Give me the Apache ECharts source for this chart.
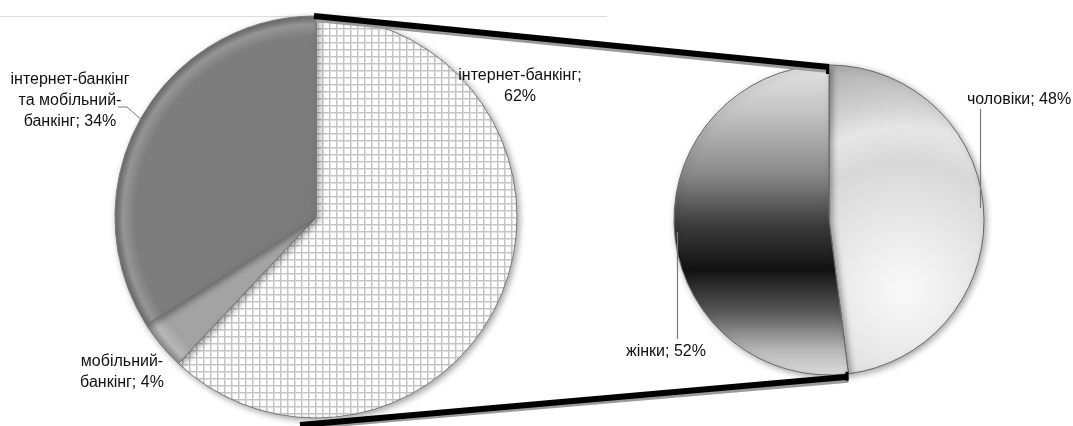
<!DOCTYPE html>
<html>
<head>
<meta charset="utf-8">
<style>html,body{margin:0;padding:0;background:#fff}#c{width:1073px;height:426px}</style>
<script src="https://cdn.jsdelivr.net/npm/echarts@6/dist/echarts.min.js"></script>
</head>
<body>
<div id="c"></div>
<script>
// ---- data ----
const bankCategories = ['інтернет-банкінг', 'мобільний-\nбанкінг', 'інтернет-банкінг\nта мобільний-\nбанкінг'];
const bankValues = [62, 4, 34];
const bankSep = [';\n', '; ', '; '];
const genderCategories = ['чоловіки', 'жінки'];
const genderValues = [48, 52];

// ---- layout ----
const C1 = [316, 217], R1 = 201;
const C2 = [829, 220], R2 = 155;
const FONT = '"Liberation Sans", Arial, sans-serif';

function hatch() {
  const c = document.createElement('canvas');
  c.width = 7; c.height = 7;
  const g = c.getContext('2d');
  g.fillStyle = '#ffffff'; g.fillRect(0, 0, 7, 7);
  g.fillStyle = '#e2e2e2';
  g.fillRect(0, 0, 7, 2);
  g.fillRect(0, 0, 2, 7);
  g.fillStyle = '#c4c4c4';
  g.fillRect(0, 0, 7, 1);
  g.fillRect(0, 0, 1, 7);
  return c;
}

const chart = echarts.init(document.getElementById('c'), null, {renderer: 'canvas'});

function radial(cx, cy, r, stops) {
  return {type: 'radial', x: cx, y: cy, r: r, global: true,
    colorStops: stops.map(s => ({offset: s[0], color: s[1]}))};
}

const bigColors = [
  {image: hatch(), repeat: 'repeat'},
  radial(C1[0], C1[1], R1, [[0, '#a6a6a6'], [0.9, '#a2a2a2'], [0.96, '#b8b8b8'], [1, '#8a8a8a']]),
  radial(C1[0], C1[1], R1, [[0, '#7b7b7b'], [0.9, '#7d7d7d'], [0.96, '#969696'], [1, '#6a6a6a']])
];
const menColor = radial(C2[0] + 75, C2[1] + 70, R2 * 1.5, [[0, '#fafafa'], [0.3, '#e8e8e8'], [0.55, '#d8d8d8'], [0.7, '#e6e6e6'], [0.8, '#d0d0d0'], [1, '#b0b0b0']]);
const womenColor = {type: 'linear', x: 0, y: C2[1] - R2, x2: 0, y2: C2[1] + R2, global: true,
  colorStops: [
    {offset: 0, color: '#e4e4e4'}, {offset: 0.15, color: '#c4c4c4'}, {offset: 0.35, color: '#8a8a8a'},
    {offset: 0.52, color: '#3a3a3a'}, {offset: 0.66, color: '#121212'}, {offset: 0.8, color: '#5a5a5a'},
    {offset: 0.92, color: '#b8b8b8'}, {offset: 1, color: '#dcdcdc'}]};

const bigLabelPos = [
  {x: 520, y: 86}, {x: 122, y: 372}, {x: 70, y: 101}
];
const smallLabelPos = [
  {x: 1019, y: 100}, {x: 666, y: 352}
];

// split point at the bottom of the small pie (end of first slice)
const endAng = genderValues[0] / (genderValues[0] + genderValues[1]) * 2 * Math.PI;
const split = [C2[0] + R2 * Math.sin(endAng), C2[1] - R2 * Math.cos(endAng)];

const lineStyle = {stroke: '#000', lineWidth: 6};
const shadowStyle = {stroke: '#9a9a9a', lineWidth: 4};

const labelBase = {
  show: true, color: '#111', fontSize: 16, lineHeight: 21, fontFamily: FONT, align: 'center',
  overflow: 'none', width: 300
};

chart.setOption({
  animation: false,
  backgroundColor: '#ffffff',
  textStyle: {fontFamily: FONT},
  graphic: [
    {type: 'line', shape: {x1: 0, y1: 16.5, x2: 607, y2: 16.5}, style: {stroke: '#dddddd', lineWidth: 1}, z: 0},
    // connector shadows
    {type: 'line', shape: {x1: C1[0], y1: C1[1] - R1 + 4, x2: C2[0], y2: C2[1] - R2 + 6}, style: shadowStyle, z: 10},
    {type: 'line', shape: {x1: C1[0] - 16, y1: C1[1] + R1 + 10, x2: split[0], y2: split[1] + 7}, style: shadowStyle, z: 10},
    // connectors
    {type: 'line', shape: {x1: C1[0] - 2, y1: C1[1] - R1, x2: C2[0], y2: C2[1] - R2 + 2}, style: lineStyle, z: 11},
    {type: 'line', shape: {x1: C1[0] - 16, y1: C1[1] + R1 + 7, x2: split[0], y2: split[1] + 3}, style: lineStyle, z: 11},
    {type: 'rect', shape: {x: C2[0] - 3, y: C2[1] - R2 - 1, width: 3, height: 10}, style: {fill: '#000'}, z: 11},
    {type: 'rect', shape: {x: split[0] - 3, y: split[1] - 2, width: 3, height: 9}, style: {fill: '#000'}, z: 11},
    // leader lines
    {type: 'polyline', shape: {points: [[118, 107], [127, 107], [144, 122]]}, style: {stroke: '#7a7a7a', lineWidth: 1, fill: null}, z: 12},
    {type: 'line', shape: {x1: 980.5, y1: 109, x2: 980.5, y2: 208}, style: {stroke: '#7a7a7a', lineWidth: 1.2}, z: 12},
    {type: 'line', shape: {x1: 677.5, y1: 232, x2: 677.5, y2: 339}, style: {stroke: '#7a7a7a', lineWidth: 1.2}, z: 12}
  ],
  series: [
    {
      type: 'pie', center: C1, radius: R1, startAngle: 90, clockwise: true,
      silent: true, z: 2,
      itemStyle: {borderColor: '#7a7a7a', borderWidth: 1, shadowBlur: 6, shadowOffsetX: 2, shadowOffsetY: 2, shadowColor: 'rgba(0,0,0,0.35)'},
      label: Object.assign({}, labelBase, {
        formatter: p => p.name + bankSep[p.dataIndex] + p.value + '%'
      }),
      labelLine: {show: false},
      labelLayout: p => Object.assign({align: 'center', verticalAlign: 'middle'}, bigLabelPos[p.dataIndex]),
      data: bankCategories.map((n, i) => ({name: n, value: bankValues[i], itemStyle: {color: bigColors[i]}}))
    },
    {
      type: 'pie', center: C2, radius: R2, startAngle: 90, clockwise: true,
      silent: true, z: 2,
      itemStyle: {borderColor: '#6a6a6a', borderWidth: 1, shadowBlur: 6, shadowOffsetX: 2, shadowOffsetY: 2, shadowColor: 'rgba(0,0,0,0.35)'},
      label: Object.assign({}, labelBase, {
        formatter: p => p.name + '; ' + p.value + '%'
      }),
      labelLine: {show: false},
      labelLayout: p => Object.assign({align: 'center', verticalAlign: 'middle'}, smallLabelPos[p.dataIndex]),
      data: genderCategories.map((n, i) => ({name: n, value: genderValues[i], itemStyle: {color: i === 0 ? menColor : womenColor}}))
    }
  ]
});
</script>
</body>
</html>
